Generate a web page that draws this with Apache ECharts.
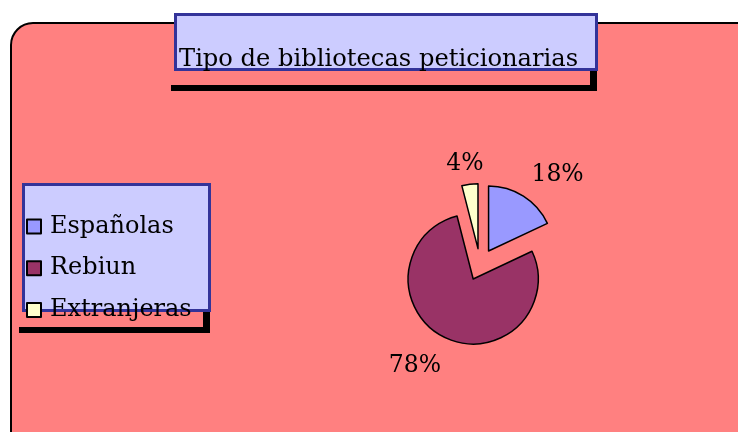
<!DOCTYPE html>
<html>
<head>
<meta charset="utf-8">
<script src="https://cdn.jsdelivr.net/npm/echarts@6/dist/echarts.min.js"></script>
<style>
html, body { margin: 0; padding: 0; background: #fff; }
#pieChart { width: 738px; height: 432px; }
</style>
</head>
<body>
<div id="pieChart"></div>
<script>
// datos del gráfico
var titulo = 'Tipo de bibliotecas peticionarias';
var categorias = ['Españolas', 'Rebiun', 'Extranjeras'];
var valores = [18, 78, 4];
var colores = ['#9999ff', '#993366', '#ffffcc'];

var fuente = 'DejaVu Serif';
// ajuste fino de las etiquetas de porcentaje (dx, dy)
var ajusteEtiquetas = [[12, 6], [-12, -1], [4, 11]];

var myChart = echarts.init(document.getElementById('pieChart'), null, { renderer: 'canvas' });

var option = {
  animation: false,
  backgroundColor: '#ffffff',
  color: colores,
  graphic: [
    // fondo rosa con esquinas redondeadas
    { type: 'rect', shape: { x: 11, y: 23, width: 770, height: 450, r: 22 },
      style: { fill: '#ff8080', stroke: '#000', lineWidth: 2 } },
    // sombra del título
    { type: 'rect', shape: { x: 171, y: 85, width: 426, height: 6 }, style: { fill: '#000' } },
    { type: 'rect', shape: { x: 590, y: 68, width: 7, height: 23 }, style: { fill: '#000' } },
    // caja del título
    { type: 'rect', shape: { x: 175.5, y: 14.5, width: 421, height: 55 },
      style: { fill: '#ccccff', stroke: '#333399', lineWidth: 3 } },
    { type: 'text', x: 179, y: 60,
      style: { text: titulo, fill: '#000', font: '24.2px "' + fuente + '"', verticalAlign: 'middle' } },
    // sombra de la leyenda
    { type: 'rect', shape: { x: 19, y: 327, width: 191, height: 6 }, style: { fill: '#000' } },
    { type: 'rect', shape: { x: 203, y: 310, width: 7, height: 23 }, style: { fill: '#000' } },
    // caja de la leyenda
    { type: 'rect', shape: { x: 23.5, y: 184.5, width: 186, height: 126 },
      style: { fill: '#ccccff', stroke: '#333399', lineWidth: 3 } }
  ],
  legend: {
    orient: 'vertical',
    left: 26,
    top: 214.5,
    icon: 'rect',
    itemWidth: 14,
    itemHeight: 14,
    itemGap: 17.7,
    padding: 0,
    data: categorias,
    textStyle: { fontFamily: fuente, fontSize: 24, color: '#000', padding: [0, 0, 0, 4] }
  },
  series: [{
    type: 'pie',
    center: [480, 264.5],
    radius: 65,
    startAngle: 90,
    selectedMode: 'multiple',
    selectedOffset: 16,
    silent: true,
    itemStyle: { borderColor: '#000', borderWidth: 1.5 },
    select: { itemStyle: { borderColor: '#000', borderWidth: 1.5 } },
    label: {
      show: true,
      position: 'outside',
      fontFamily: fuente,
      fontSize: 23.5,
      color: '#000',
      formatter: function (p) { return Math.round(p.percent) + '%'; }
    },
    labelLine: { show: false, length: 32, length2: 0 },
    labelLayout: function (p) {
      var a = ajusteEtiquetas[p.dataIndex];
      return { align: 'center', verticalAlign: 'middle', dx: a[0], dy: a[1] };
    },
    data: categorias.map(function (c, i) {
      return { name: c, value: valores[i], selected: true };
    })
  }]
};

myChart.setOption(option);
</script>
</body>
</html>
